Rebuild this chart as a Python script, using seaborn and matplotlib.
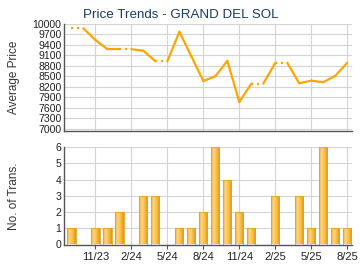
import numpy as np
import pandas as pd
import matplotlib
matplotlib.use("Agg")
import matplotlib.pyplot as plt
from matplotlib.colors import LinearSegmentedColormap
import seaborn as sns

# ---- data ----
months = ["9/23", "10/23", "11/23", "12/23", "1/24", "2/24", "3/24", "4/24", "5/24",
          "6/24", "7/24", "8/24", "9/24", "10/24", "11/24", "12/24", "1/25", "2/25",
          "3/25", "4/25", "5/25", "6/25", "7/25", "8/25"]
avg_price = [9875, None, 9540, 9280, 9280, None, 9235, 8935, None,
             9780, 9075, 8370, 8505, 8945, 7770, 8295, None, 8890,
             None, 8305, 8380, 8335, 8515, 8890]
trans = [1, 0, 1, 1, 2, 0, 3, 3, 0,
         1, 1, 2, 6, 4, 2, 1, 0, 3,
         0, 3, 1, 6, 1, 1]
tick_labels = ["11/23", "2/24", "5/24", "8/24", "11/24", "2/25", "5/25", "8/25"]
price_ticks = list(range(7000, 10001, 300))
trans_ticks = [0, 1, 2, 3, 4, 5, 6]
title = "Price Trends - GRAND DEL SOL"

sns.set_theme(style="white")
plt.rcParams['font.family'] = ['Liberation Sans', 'DejaVu Sans']

x = np.arange(len(months))
tick_pos = [months.index(t) for t in tick_labels]
price = pd.Series(avg_price, dtype=float)
missing = price.isna().values
price_ff = price.ffill().values

fig = plt.figure(figsize=(3.6, 2.7), dpi=100)
grid_c = "#d4d4d4"
spine_c = "#555555"
line_c = "#FFA500"
txt_c = "#222222"

W, H = 360.0, 270.0
def axes_px(l, t, r, b):
    return fig.add_axes([l / W, 1 - b / H, (r - l) / W, (b - t) / H])

ylab_x = (20 - 64.3) / (352 - 64.3)

# ---- top: price ----
ax1 = axes_px(64.3, 24, 352, 131)
xlim = (-0.6, 23.4)
for i in range(len(x) - 1):
    seg = pd.DataFrame({"m": [x[i], x[i + 1]], "p": [price_ff[i], price_ff[i + 1]]})
    ls = ":" if missing[i + 1] else "-"
    sns.lineplot(data=seg, x="m", y="p", ax=ax1, color=line_c, linewidth=1.6,
                 linestyle=ls, estimator=None, zorder=3)
ax1.set_xlim(*xlim)
ax1.set_ylim(6940, 10000)
ax1.set_yticks(price_ticks)
ax1.set_yticklabels([str(v) for v in price_ticks], fontsize=7.6, color=txt_c)
ax1.set_xticks(tick_pos)
ax1.set_xticklabels([])
ax1.tick_params(axis="x", length=0)
ax1.tick_params(axis="y", length=0, pad=2)
ax1.grid(True, color=grid_c, linewidth=0.8)
ax1.set_xlabel("")
ax1.set_ylabel("Average Price", fontsize=8.5, color="#333333")
ax1.yaxis.set_label_coords(ylab_x, 0.5)
for s in ["top", "right"]:
    ax1.spines[s].set_visible(False)
for s in ["left", "bottom"]:
    ax1.spines[s].set_color(spine_c)
    ax1.spines[s].set_linewidth(1.0)
ax1.set_facecolor("white")

fig.text(180.5 / W, 1 - 15 / H, title, ha="center", va="center",
         fontsize=9.6, color="#1b3a66")

# ---- bottom: transactions ----
ax2 = axes_px(64.3, 147, 352, 244.5)
df = pd.DataFrame({"m": x, "n": trans})
sns.barplot(data=df, x="m", y="n", ax=ax2, native_scale=True, width=0.68,
            color="#F5B940", saturation=1, zorder=3)
cmap = LinearSegmentedColormap.from_list(
    "bar", ["#F0A928", "#FDD27E", "#FAC95F", "#F2B035", "#E2960E"])
grad = np.linspace(0, 1, 64).reshape(1, -1)
for p in list(ax2.patches):
    h = p.get_height()
    if h <= 0:
        p.set_visible(False)
        continue
    x0, w = p.get_x(), p.get_width()
    im = ax2.imshow(grad, cmap=cmap, aspect="auto", extent=[x0, x0 + w, 0, h],
                    zorder=3.5)
    im.set_clip_path(p)
    p.set_facecolor("none")
    p.set_edgecolor("#E9A21C")
    p.set_linewidth(0.6)
    p.set_zorder(4)
ax2.set_xlim(*xlim)
ax2.set_ylim(0, 6)
ax2.set_yticks(trans_ticks)
ax2.set_yticklabels([str(v) for v in trans_ticks], fontsize=7.6, color=txt_c)
ax2.set_xticks(tick_pos)
ax2.set_xticklabels(tick_labels, fontsize=8, color=txt_c)
ax2.tick_params(axis="x", length=3, width=0.8, color=spine_c, pad=2.5, bottom=True)
ax2.tick_params(axis="y", length=0, pad=2)
ax2.grid(True, color=grid_c, linewidth=0.8)
ax2.set_axisbelow(True)
ax2.set_xlabel("")
ax2.set_ylabel("No. of Trans.", fontsize=8.5, color="#333333")
ax2.yaxis.set_label_coords(ylab_x, 0.5)
for s in ["top", "right"]:
    ax2.spines[s].set_visible(False)
for s in ["left", "bottom"]:
    ax2.spines[s].set_color(spine_c)
    ax2.spines[s].set_linewidth(1.0)
ax2.set_facecolor("white")

fig.savefig("out.png", dpi=100, facecolor="white")
